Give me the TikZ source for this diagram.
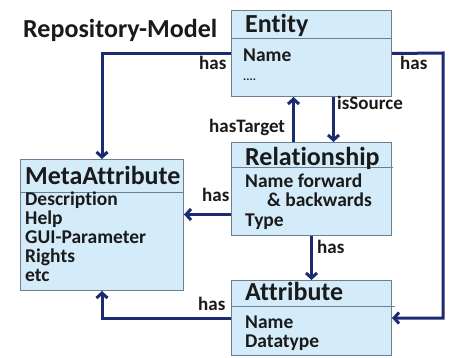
\documentclass[tikz,border=0pt]{standalone}
\usepackage{fontspec}
\setmainfont{Carlito}[Ligatures={NoCommon}]
\usetikzlibrary{arrows.meta}
\definecolor{boxfill}{HTML}{D4ECFA}
\definecolor{boxline}{HTML}{6D7F8F}
\definecolor{linkcol}{HTML}{1C2A72}
\definecolor{txtcol}{HTML}{1A1A1A}
\begin{document}
\begin{tikzpicture}[x=1pt,y=-1pt,
  classbox/.style={draw=boxline,fill=boxfill,line width=1pt,inner sep=0pt,anchor=north west},
  sepline/.style={draw=boxline,line width=1pt},
  headtxt/.style={anchor=base west,inner sep=0pt,text=txtcol,font=\bfseries\fontsize{26}{26}\selectfont},
  bodytxt/.style={anchor=base west,inner sep=0pt,text=txtcol,align=left,font=\bfseries\fontsize{19.5}{19}\selectfont},
  linktxt/.style={anchor=base west,inner sep=0pt,text=txtcol,font=\bfseries\fontsize{19}{19}\selectfont},
  link/.style={draw=linkcol,line width=3pt,-{Straight Barb[length=5pt,width=11pt]}}]
\useasboundingbox[fill=white] (0,0) rectangle (452,358);

% title
\node[headtxt] (title) at (23,38) {Repository-Model};

% class boxes
\node[classbox,minimum width=160pt,minimum height=86pt] (entity) at (231,10) {};
\node[classbox,minimum width=160pt,minimum height=93pt] (rel) at (231,142) {};
\node[classbox,minimum width=163pt,minimum height=131pt] (meta) at (20,159) {};
\node[classbox,minimum width=160pt,minimum height=75pt] (attr) at (231,280) {};

% header separators
\draw[sepline] (231,39) -- (391,39);
\draw[sepline] (231,168) -- (393,168);
\draw[sepline] (20,192) -- (183,192);
\draw[sepline] (231,306) -- (395,306);

% box contents
\node[headtxt] (entityhead) at (245,33) {Entity};
\node[bodytxt] (entityname) at (243,62) {Name};
\node[bodytxt] (entitydots) at (243,81) {\fontsize{12}{12}\selectfont ....};

\node[headtxt] (relhead) at (245,166) {Relationship};
\node[bodytxt] (relname) at (245,188) {Name forward};
\node[bodytxt] (relback) at (267,207) {\& backwards};
\node[bodytxt] (reltype) at (245,226) {Type};

\node[headtxt] (metahead) at (25,185) {MetaAttribute};
\node[bodytxt] (metadesc) at (25,205) {Description};
\node[bodytxt] (metahelp) at (25,224) {Help};
\node[bodytxt] (metagui) at (25,243) {GUI-Parameter};
\node[bodytxt] (metarights) at (25,262) {Rights};
\node[bodytxt] (metaetc) at (25,281) {etc};

\node[headtxt] (attrhead) at (245,300) {Attribute};
\node[bodytxt] (attrname) at (245,328) {Name};
\node[bodytxt] (attrtype) at (245,347) {Datatype};

% connectors
\draw[link] (entity.west) -| (meta.north);
\draw[link] (entity.east) -- (443,53) |- (attr.east);
\draw[link] ([xshift=22pt]entity.south) -- ([xshift=22pt]rel.north);
\draw[link] ([xshift=-18pt]rel.north) -- ([xshift=-18pt]entity.south);
\draw[link] ([yshift=-25.5pt]rel.west) -- ([yshift=-25.5pt]rel.west -| meta.east);
\draw[link] (rel.south) -- (attr.north);
\draw[link] (attr.west) -| (meta.south);

% connector labels
\node[linktxt] (l1) at (199,70) {has};
\node[linktxt] (l2) at (400,70) {has};
\node[linktxt] (l3) at (337,110) {isSource};
\node[linktxt] (l4) at (209,133) {hasTarget};
\node[linktxt] (l5) at (202,201) {has};
\node[linktxt] (l6) at (317,253) {has};
\node[linktxt] (l7) at (198,310) {has};
\end{tikzpicture}
\end{document}
